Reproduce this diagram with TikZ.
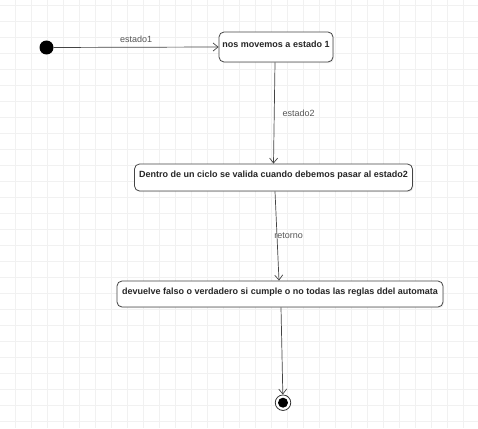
\documentclass[tikz,border=0pt]{standalone}
\usepackage{fontspec}
\setmainfont{Liberation Sans}
\usepackage{tikz}
\usetikzlibrary{arrows.meta,shadows}
\definecolor{linegray}{HTML}{444444}
\definecolor{labelgray}{HTML}{555555}
\definecolor{gridgray}{HTML}{F1F1F1}
\tikzset{%
  state box/.style={
    draw=linegray,
    line width=0.8pt,
    rounded corners=5pt,
    fill=white,
    drop shadow={shadow xshift=1pt, shadow yshift=-1.2pt, opacity=0.12},
    font=\fontsize{9}{11}\selectfont\bfseries,
    text=black!85,
    text height=6.5pt,
    text depth=6.5pt,
    inner xsep=3pt
  },
  initial dot/.style={
    circle,
    fill=black,
    minimum size=14pt,
    inner sep=0pt
  },
  final ring/.style={
    circle,
    draw=black!80,
    line width=0.8pt,
    fill=white,
    minimum size=15.5pt,
    inner sep=0pt,
    path picture={\fill[black] (path picture bounding box.center) circle (5pt);}
  },
  edge label/.style={
    font=\fontsize{9}{11}\selectfont,
    text=labelgray,
    inner sep=1pt
  },
  flow/.style={
    draw=linegray,
    line width=0.7pt,
    -{Straight Barb[length=5pt,width=8pt]}
  },
  grid line/.style={
    draw=gridgray,
    line width=0.6pt
  },
}

\begin{document}
\begin{tikzpicture}[x=1pt, y=-1pt]
        \useasboundingbox [fill=white] (0,0) rectangle (478,428);

        % background grid
        \foreach \gx in {15,31,...,478}
          \draw [grid line] (\gx,0) -- (\gx,428);
        \foreach \gy in {5,21,...,428}
          \draw [grid line] (0,\gy) -- (478,\gy);

        \node [initial dot] (start) at (46.5,47.5) {};
        \node [final ring] (fin) at (283,402.7) {};

        \node [state box, minimum width=114pt, minimum height=30pt] (s1) at (276,47) {nos movemos a estado 1};
        \node [state box, minimum width=278pt, minimum height=27pt] (s2) at (273.5,177.5) {Dentro de un ciclo se valida cuando debemos pasar al estado2};
        \node [state box, minimum width=326pt, minimum height=26pt] (s3) at (280,294) {devuelve falso o verdadero si cumple o no todas las reglas ddel automata};

        \draw [flow] (start) -- (s1.west)
          node [edge label, midway, above=3pt] (l1) {estado1};
        \draw [flow] ([xshift=-1pt]s1.south) -- (s2.north)
          node [edge label, midway, anchor=west, xshift=7pt] (l2) {estado2};
        \draw [flow] ([xshift=1.5pt]s2.south) -- ([xshift=-1pt]s3.north)
          node [edge label, midway, anchor=west, xshift=-4pt] (l3) {retorno};
        \draw [flow] ([xshift=1pt]s3.south) -- (fin);
\end{tikzpicture}
\end{document}
